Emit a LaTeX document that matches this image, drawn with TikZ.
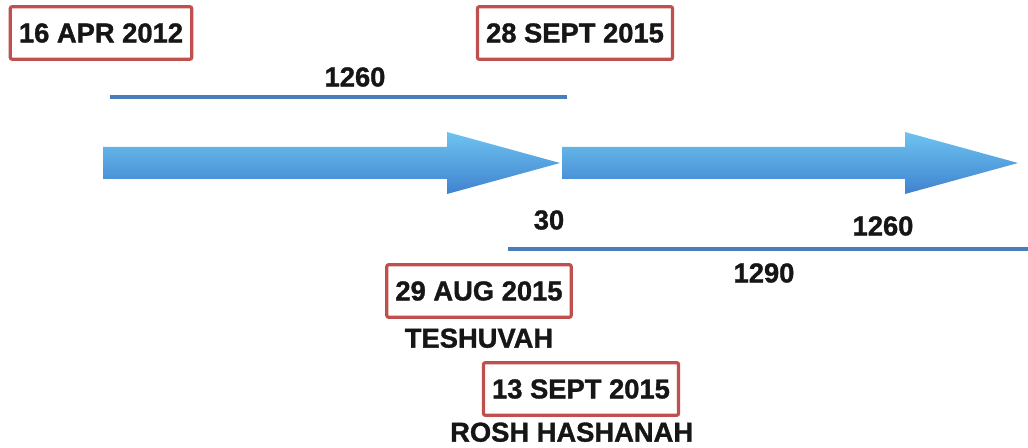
\documentclass[tikz,border=0pt]{standalone}
\usepackage{fontspec}
\setmainfont[BoldFeatures={FakeBold=1.2}]{Liberation Sans}
\usepackage{xcolor}
\usetikzlibrary{positioning}
\definecolor{boxred}{HTML}{C0504D}
\definecolor{spanblue}{HTML}{4A7EBB}
\definecolor{arrowtop}{HTML}{6EC3F0}
\definecolor{arrowbottom}{HTML}{3F82CF}
\definecolor{textblack}{HTML}{161616}
\newcommand{\datefont}{\fontsize{20.5}{23}\selectfont\bfseries}
\tikzset{
  datebox/.style={draw=boxred, line width=2.4pt, fill=white, rounded corners=1.5pt,
                  font=\datefont, text=textblack, minimum height=39.5pt, inner xsep=6.5pt},
  caption/.style={font=\datefont, text=textblack, inner sep=1pt},
  spanlabel/.style={font=\datefont, text=textblack, inner sep=1pt},
  spanline/.style={draw=spanblue, line width=2.5pt},
  arrowbody/.style={top color=arrowtop, bottom color=arrowbottom, draw=none}
}

\begin{document}
\begin{tikzpicture}[x=0.75pt, y=-0.75pt]

\useasboundingbox (0,0) rectangle (1028,448);

% Arrows
\shade[arrowbody] (103,147) -- (447,147) -- (447,132) -- (560,163) -- (447,194)
  -- (447,179) -- (103,179) -- cycle;
\shade[arrowbody] (562,147) -- (905,147) -- (905,132) -- (1018,163) -- (905,194)
  -- (905,179) -- (562,179) -- cycle;

% Spans
\coordinate (topstart) at (110,97);
\coordinate (topend)   at (567,97);
\coordinate (lowstart) at (508,249);
\coordinate (lowend)   at (1028,249);
\draw[spanline] (topstart) -- (topend);
\draw[spanline] (lowstart) -- (lowend);

\node[spanlabel] (firstspan) at (355,77)  {1260};
\node[spanlabel] (gap)       at (549,220) {30};
\node[spanlabel] (lastspan)  at (883,226) {1260};
\node[spanlabel] (wholespan) at (764,273) {1290};

% Dates
\node[datebox] (apr)    at (101,33)  {16 APR 2012};
\node[datebox] (septB)  at (575,33)  {28 SEPT 2015};
\node[datebox] (aug)    at (479,291) {29 AUG 2015};
\node[datebox] (septA)  at (581,389) {13 SEPT 2015};

% Captions
\node[caption, below=6pt of aug]                   (teshuvah) {TESHUVAH};
\node[caption, below=3pt of septA, xshift=-7pt]    (rosh)     {ROSH HASHANAH};

\end{tikzpicture}
\end{document}
